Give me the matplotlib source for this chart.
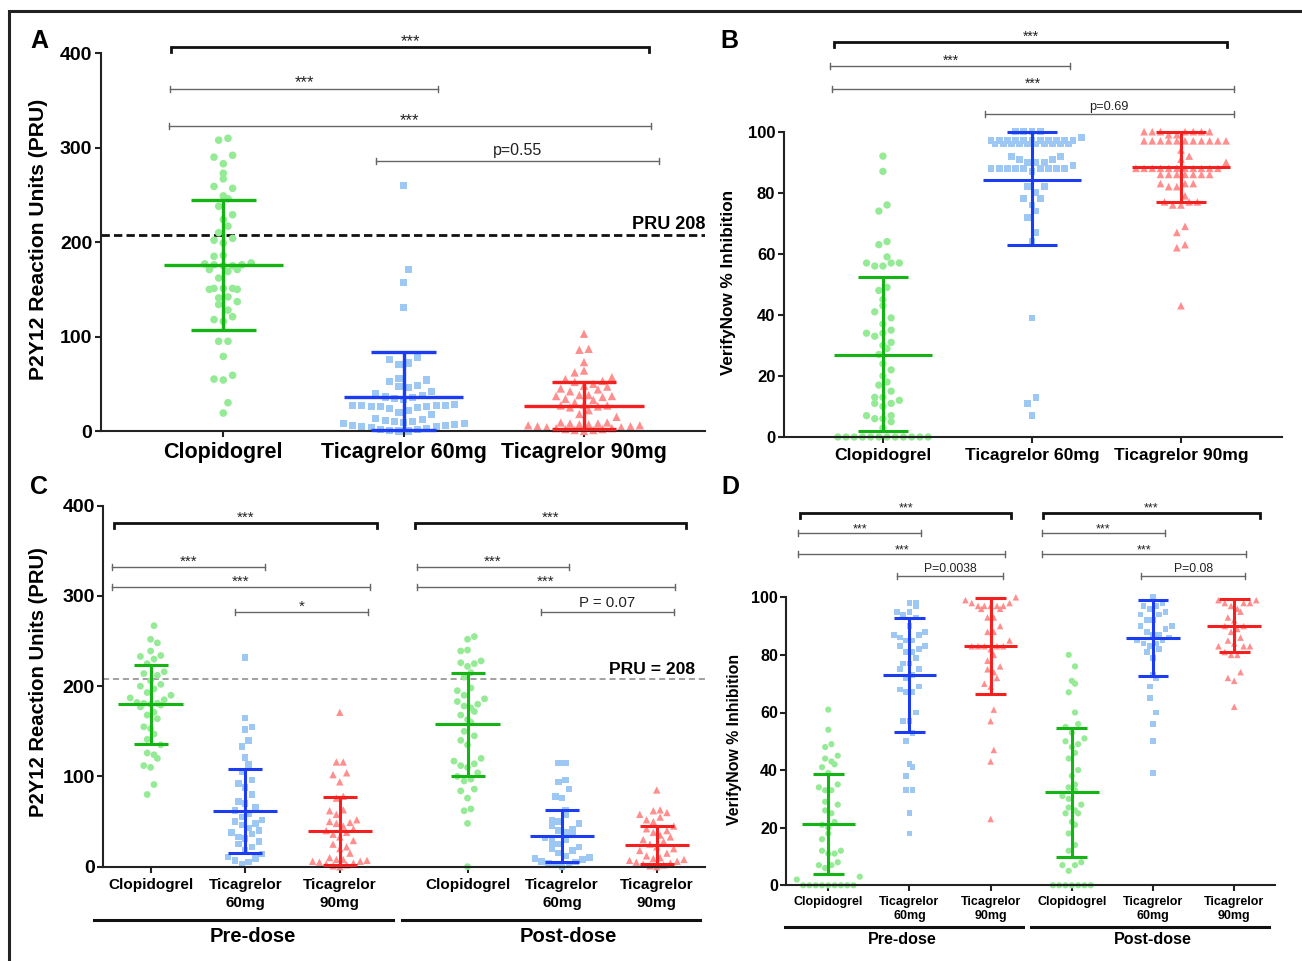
import numpy as np
import matplotlib
matplotlib.use('Agg')
import matplotlib.pyplot as plt
from matplotlib.lines import Line2D

W, H = 1302, 961
plt.rcParams['font.family'] = ['Liberation Sans', 'DejaVu Sans']

# ---------------- DATA ----------------
groups3 = ['Clopidogrel', 'Ticagrelor 60mg', 'Ticagrelor 90mg']
groups6 = ['Clopidogrel', 'Ticagrelor\n60mg', 'Ticagrelor\n90mg'] * 2

# Panel A: PRU
A_clop = [310, 308, 292, 290, 283, 273, 267, 259, 257, 249, 246, 238, 229, 224, 217, 210, 204, 202, 199,
          186, 185, 178, 177, 176, 176, 175, 175, 171, 171, 169, 162, 151, 151, 151, 150, 150, 142, 141,
          137, 134, 128, 121, 118, 116, 95, 95, 79, 59, 55, 54, 30, 19]
A_t60 = [260, 171, 157, 131, 78, 76, 72, 70, 56, 54, 52, 48, 47, 46, 42, 40, 38, 36, 35, 34, 33, 28, 27, 27,
         27, 27, 26, 26, 26, 25, 24, 22, 20, 17, 13, 12, 11, 10, 10, 9, 8, 8, 7, 6, 6, 5, 5, 4, 3, 2, 2, 1, 0, 0]
A_t90 = [103, 87, 86, 73, 64, 62, 57, 55, 53, 52, 50, 48, 47, 45, 44, 42, 38, 38, 37, 37, 36, 34, 33, 30, 28,
         27, 27, 26, 25, 22, 18, 15, 9, 9, 8, 8, 7, 7, 6, 6, 5, 5, 4, 4, 3, 3, 2, 2, 1, 1, 0]
A_mean = [176, 36.5, 27]
A_lo = [107, 1, 2]
A_hi = [245, 84, 52]

# Panel B: VerifyNow % inhibition
B_clop = [92, 87, 76, 74, 64, 63, 59, 57, 57, 57, 56, 56, 49, 48, 45, 43, 41, 39, 37, 35, 34, 34, 33, 31, 30,
          29, 27, 24, 22, 20, 18, 17, 15, 13, 13, 12, 11, 11, 10, 7, 7, 6, 6, 5, 3,
          0, 0, 0, 0, 0, 0, 0, 0, 0, 0, 0, 0]
B_t60 = [100, 100, 100, 100, 98, 97, 97, 97, 97, 97, 97, 97, 97, 97, 97, 97, 96, 96, 96, 96, 96, 96, 96, 96,
         96, 96, 92, 92, 91, 91, 90, 90, 90, 89, 88, 88, 88, 88, 88, 88, 88, 88, 88, 87, 82, 82, 80, 78, 78,
         76, 74, 72, 67, 64, 39, 13, 11, 7]
B_t90 = [100, 100, 100, 100, 100, 100, 100, 99, 99, 97, 97, 97, 97, 97, 97, 97, 97, 97, 97, 97, 94, 92, 91,
         90, 88, 88, 88, 88, 88, 88, 88, 88, 88, 88, 88, 86, 86, 86, 86, 86, 86, 86, 83, 83, 83, 82, 82, 79,
         77, 77, 77, 76, 76, 69, 67, 63, 62, 43]
B_mean = [27, 84.3, 88.5]
B_lo = [2, 63, 77]
B_hi = [52.3, 100, 99.9]

# Panel C: PRU pre / post dose
C_pre_clop = [267, 252, 248, 239, 234, 233, 230, 225, 216, 214, 212, 206, 202, 200, 197, 193, 190, 187, 185,
              182, 181, 181, 180, 179, 177, 171, 168, 164, 155, 153, 147, 141, 135, 126, 124, 120, 112, 110, 91, 80]
C_pre_t60 = [232, 165, 155, 152, 140, 133, 121, 113, 105, 96, 92, 88, 80, 72, 70, 66, 62, 59, 55, 52, 50, 48,
             46, 43, 40, 38, 36, 33, 31, 28, 25, 22, 18, 14, 11, 9, 7, 5, 3]
C_pre_t90 = [171, 116, 116, 104, 102, 94, 78, 76, 63, 62, 58, 52, 50, 49, 48, 45, 42, 40, 38, 36, 33, 29, 25,
             22, 20, 15, 10, 8, 8, 7, 6, 6, 5, 4, 3, 2, 1, 0]
C_post_clop = [255, 252, 240, 239, 228, 226, 225, 222, 215, 210, 198, 195, 190, 186, 183, 180, 178, 176, 172,
               168, 163, 160, 150, 145, 140, 135, 120, 117, 114, 112, 110, 104, 100, 97, 95, 86, 84, 76, 64, 62,
               48, 0]
C_post_t60 = [115, 115, 96, 94, 86, 78, 76, 62, 58, 52, 50, 48, 45, 42, 40, 38, 35, 32, 30, 28, 25, 22, 20, 18,
              15, 12, 10, 9, 8, 6, 5, 4, 3, 2, 0]
C_post_t90 = [85, 63, 62, 60, 58, 55, 52, 50, 45, 42, 40, 38, 35, 33, 30, 28, 25, 22, 20, 18, 15, 12, 10, 9, 8,
              7, 6, 5, 4, 3, 2, 1, 0]
C_mean = [180.5, 61.6, 40, 157.6, 34, 23.6]
C_lo = [136, 15, 2, 101, 5, 2.6]
C_hi = [223.6, 108.5, 77.5, 214.8, 63, 45.4]

# Panel D: VerifyNow % inhibition pre / post dose
D_pre_clop = [61, 54, 49, 48, 45, 44, 43, 42, 41, 39, 35, 34, 33, 33, 29, 28, 26, 25, 22, 21, 20, 18, 16, 12,
              12, 11, 11, 8, 7, 7, 6, 3, 2, 0, 0, 0, 0, 0, 0, 0, 0, 0]
D_pre_t60 = [98, 98, 97, 95, 95, 94, 93, 90, 88, 87, 87, 86, 85, 85, 83, 83, 82, 81, 81, 79, 77, 77, 75, 75,
             73, 72, 69, 68, 67, 67, 60, 57, 57, 53, 50, 42, 41, 38, 33, 33, 25, 18]
D_pre_t90 = [100, 99, 98, 98, 97, 97, 97, 97, 97, 96, 96, 93, 93, 90, 88, 88, 85, 83, 83, 83, 83, 83, 82, 80,
             78, 76, 75, 74, 72, 70, 69, 61, 57, 47, 43, 23]
D_post_clop = [80, 76, 71, 70, 67, 60, 56, 55, 53, 51, 50, 49, 48, 46, 44, 40, 38, 35, 34, 33, 31, 30, 28, 27,
               26, 25, 25, 22, 21, 18, 14, 12, 8, 7, 7, 5, 0, 0, 0, 0, 0, 0, 0]
D_post_t60 = [100, 98, 97, 97, 96, 95, 94, 94, 92, 92, 90, 90, 89, 88, 87, 87, 86, 85, 85, 84, 84, 83, 82, 81,
              79, 73, 72, 69, 65, 60, 56, 50, 39]
D_post_t90 = [99, 99, 98, 98, 98, 97, 96, 95, 93, 92, 90, 90, 89, 88, 86, 85, 84, 83, 83, 83, 81, 80, 80, 74,
              72, 71, 62]
D_mean = [21.4, 73, 83, 32.3, 85.9, 90.2]
D_lo = [3.9, 53.1, 66.4, 10, 72.6, 81.1]
D_hi = [38.8, 92.9, 99.7, 54.6, 99.1, 99.3]

# ---------------- STYLE ----------------
LIGHT = ['#95ea95', '#9dc8f3', '#ff8e8e']
DARK = ['#14b414', '#1b3cf0', '#f42020']
MARK = ['o', 's', '^']

fig = plt.figure(figsize=(W / 100, H / 100), dpi=100)


def add_axes(l, t, r, b):
    return fig.add_axes([l / W, 1 - b / H, (r - l) / W, (b - t) / H])


def ftext(x, y, s, **kw):
    fig.text(x / W, 1 - y / H, s, **kw)


def fline(xs, ys, **kw):
    fig.add_artist(Line2D([x / W for x in xs], [1 - y / H for y in ys], transform=fig.transFigure, **kw))


def scales(ax):
    bb = ax.get_position()
    x0, x1 = ax.get_xlim()
    y0, y1 = ax.get_ylim()
    return bb.width * W / (x1 - x0), bb.height * H / (y1 - y0)


def row_offsets(ypx, bin_h, spacing, max_n):
    """Row-wise scatter layout (GraphPad-like): nearby values share a row, spread centre-out."""
    ypx = np.asarray(ypx)
    order = np.argsort(ypx, kind='stable')
    groups = []
    for i in order:
        if groups and ypx[i] == ypx[groups[-1][0]]:
            groups[-1].append(i)
        else:
            groups.append([i])
    bins, cur, start = [], [], None
    for g in groups:
        y = ypx[g[0]]
        if start is None or y - start >= bin_h or len(cur) + len(g) > max_n:
            if cur:
                bins.append(cur)
            cur, start = list(g), y
        else:
            cur.extend(g)
    if cur:
        bins.append(cur)
    xs = np.zeros(len(ypx))
    prev_y, prev_shift, prev_par = -1e9, 0.0, -1
    for b in bins:
        m = len(b)
        slots = sorted(np.arange(m) - (m - 1) / 2.0, key=lambda s: (abs(s), s))
        y0 = np.mean([ypx[i] for i in b])
        shift = 0.0
        if y0 - prev_y < 1.6 * bin_h and m % 2 == prev_par:
            shift = 0.5 if prev_shift <= 0 else -0.5
        for i, s in zip(b, slots):
            xs[i] = (s + shift) * spacing
        prev_y, prev_shift, prev_par = y0, shift, m % 2
    return xs


def draw_group(ax, xpos, vals, k, msz, bin_h, spacing, max_n):
    sx, sy = scales(ax)
    v = np.array(vals, dtype=float)
    off = row_offsets(v * sy, bin_h, spacing, max_n) / sx
    ax.scatter(xpos + off, v, marker=MARK[k], s=msz[k], c=LIGHT[k], edgecolors='none',
               clip_on=False, zorder=2)


def draw_err(ax, x, m, lo, hi, k, mw, cw, lw):
    kw = dict(color=DARK[k], lw=lw, solid_capstyle='butt', clip_on=False, zorder=3)
    ax.plot([x - mw, x + mw], [m, m], **kw)
    ax.plot([x, x], [lo, hi], **kw)
    ax.plot([x - cw, x + cw], [hi, hi], **kw)
    ax.plot([x - cw, x + cw], [lo, lo], **kw)


def bracket(ax, x0, x1, y, txt, thick, fs, toff):
    sx, sy = scales(ax)
    u = 1.0 / sy
    if thick:
        ax.plot([x0, x0, x1, x1], [y - 5 * u, y, y, y - 5 * u], color='#111111', lw=2.0,
                clip_on=False, solid_joinstyle='miter')
    else:
        kw = dict(color='#666666', lw=1.0, clip_on=False)
        ax.plot([x0, x1], [y, y], **kw)
        ax.plot([x0, x0], [y - 3 * u, y + 3 * u], **kw)
        ax.plot([x1, x1], [y - 3 * u, y + 3 * u], **kw)
    ax.text((x0 + x1) / 2, y + toff * u, txt, ha='center', va='baseline', fontsize=fs,
            color='#222222', clip_on=False)


def style_axes(ax, yt, xpos, xlabels, tfs_x, tfs_y, lw, ls=1.15):
    for s in ['top', 'right']:
        ax.spines[s].set_visible(False)
    for s in ['left', 'bottom']:
        ax.spines[s].set_linewidth(lw)
        ax.spines[s].set_color('#222222')
    ax.set_yticks(yt)
    ax.set_yticklabels([str(t) for t in yt], fontsize=tfs_y, fontweight='bold')
    ax.set_xticks(xpos)
    ax.set_xticklabels(xlabels, fontsize=tfs_x, fontweight='bold', linespacing=ls)
    ax.tick_params(axis='both', direction='out', length=4, width=lw, color='#222222', pad=2)
    ax.tick_params(axis='x', pad=4)
    ax.patch.set_alpha(0)


# ---------------- Figure border ----------------
fline([9, 9, 1310], [970, 10.5, 10.5], color='#222222', lw=2.2, solid_joinstyle='miter')

# ---------------- Panel A ----------------
axA = add_axes(100.5, 53.3, 705, 431)
axA.set_xlim(-0.681, 2.671)
axA.set_ylim(0, 400)
style_axes(axA, [0, 100, 200, 300, 400], [0, 1, 2], groups3, 15.5, 14, 1.5)
axA.axhline(208, color='#111111', lw=2.0, ls=(0, (3, 1.5)), zorder=1)
for k, vals in enumerate([A_clop, A_t60, A_t90]):
    draw_group(axA, k, vals, k, [30, 26, 36], 9.0, 9.3, 14)
for k in range(3):
    draw_err(axA, k, A_mean[k], A_lo[k], A_hi[k], k, 0.33, 0.18, 2.4)
bracket(axA, -0.289, 2.36, 406.4, '***', True, 12, 1)
bracket(axA, -0.294, 1.19, 362.6, '***', False, 12, 1)
bracket(axA, -0.302, 2.37, 323.4, '***', False, 12, 1)
bracket(axA, 0.848, 2.418, 286.3, 'p=0.55', False, 11.5, 6)
ftext(705, 229, 'PRU 208', ha='right', va='baseline', fontsize=13, fontweight='bold')
ftext(39, 239, 'P2Y12 Reaction Units (PRU)', rotation=90, ha='center', va='center',
      fontsize=15.2, fontweight='bold')
ftext(39.5, 41, 'A', ha='center', va='center', fontsize=18, fontweight='bold')

# ---------------- Panel B ----------------
axB = add_axes(783.7, 131.7, 1282, 437)
axB.set_xlim(-0.666, 2.678)
axB.set_ylim(0, 100)
style_axes(axB, [0, 20, 40, 60, 80, 100], [0, 1, 2], groups3, 12.6, 12, 1.5)
for k, vals in enumerate([B_clop, B_t60, B_t90]):
    draw_group(axB, k, vals, k, [28, 24, 30], 9.0, 8.2, 12)
for k in range(3):
    draw_err(axB, k, B_mean[k], B_lo[k], B_hi[k], k, 0.33, 0.17, 2.2)
bracket(axB, -0.326, 2.31, 129.3, '***', True, 10, 1)
bracket(axB, -0.352, 1.258, 121.6, '***', False, 10, 1)
bracket(axB, -0.339, 2.353, 113.9, '***', False, 10, 1)
bracket(axB, 0.685, 2.353, 105.7, 'p=0.69', False, 9.2, 4)
ftext(729, 282.5, 'VerifyNow % Inhibition', rotation=90, ha='center', va='center',
      fontsize=12.3, fontweight='bold')
ftext(729, 41, 'B', ha='center', va='center', fontsize=18, fontweight='bold')

# ---------------- Panel C ----------------
xC = [0, 1, 2, 3.35, 4.35, 5.35]
axC = add_axes(103, 505.7, 705, 866.7)
axC.set_xlim(-0.503, 5.86)
axC.set_ylim(0, 400)
style_axes(axC, [0, 100, 200, 300, 400], xC, groups6, 11, 14, 1.5, ls=1.35)
axC.axhline(208, color='#888888', lw=1.1, ls=(0, (4, 2.5)), zorder=1)
for j, vals in enumerate([C_pre_clop, C_pre_t60, C_pre_t90, C_post_clop, C_post_t60, C_post_t90]):
    draw_group(axC, xC[j], vals, j % 3, [24, 22, 28], 10.0, 6.8, 9)
for j in range(6):
    draw_err(axC, xC[j], C_mean[j], C_lo[j], C_hi[j], j % 3, 0.34, 0.18, 2.2)
bracket(axC, -0.387, 2.39, 380.8, '***', True, 11, 1)
bracket(axC, -0.412, 1.205, 332, '***', False, 11, 1)
bracket(axC, -0.403, 2.316, 310, '***', False, 11, 1)
bracket(axC, 0.897, 2.298, 282, '*', False, 11, 1)
bracket(axC, 2.80, 5.655, 380.8, '***', True, 11, 1)
bracket(axC, 2.816, 4.423, 332, '***', False, 11, 1)
bracket(axC, 2.816, 5.538, 310, '***', False, 11, 1)
bracket(axC, 4.127, 5.529, 282, 'P = 0.07', False, 10.8, 5)
ftext(695.5, 674, 'PRU = 208', ha='right', va='baseline', fontsize=12.6, fontweight='bold')
ftext(39, 682, 'P2Y12 Reaction Units (PRU)', rotation=90, ha='center', va='center',
      fontsize=14.6, fontweight='bold')
ftext(39, 486.5, 'C', ha='center', va='center', fontsize=18, fontweight='bold')
fline([94, 392.5], [920, 920], color='#111111', lw=2.2)
fline([401.7, 700], [920, 920], color='#111111', lw=2.2)
ftext(252.5, 936, 'Pre-dose', ha='center', va='center', fontsize=14.5, fontweight='bold')
ftext(568, 936, 'Post-dose', ha='center', va='center', fontsize=14.5, fontweight='bold')

# ---------------- Panel D ----------------
xD = [0, 1, 2, 3, 4, 5]
axD = add_axes(786.4, 597.3, 1274.8, 885.3)
axD.set_xlim(-0.516, 5.50)
axD.set_ylim(0, 100)
style_axes(axD, [0, 20, 40, 60, 80, 100], xD, groups6, 9, 11.6, 1.5)
for j, vals in enumerate([D_pre_clop, D_pre_t60, D_pre_t90, D_post_clop, D_post_t60, D_post_t90]):
    draw_group(axD, xD[j], vals, j % 3, [20, 17, 22], 10.0, 6.3, 12)
for j in range(6):
    draw_err(axD, xD[j], D_mean[j], D_lo[j], D_hi[j], j % 3, 0.33, 0.19, 2.2)
bracket(axD, -0.343, 2.256, 129.4, '***', True, 9, 1)
bracket(axD, -0.369, 1.14, 122.2, '***', False, 9, 1)
bracket(axD, -0.369, 2.181, 114.9, '***', False, 9, 1)
bracket(axD, 0.851, 2.155, 107.4, 'P=0.0038', False, 8.7, 4)
bracket(axD, 2.643, 5.32, 129.4, '***', True, 9, 1)
bracket(axD, 2.629, 4.152, 122.2, '***', False, 9, 1)
bracket(axD, 2.629, 5.14, 114.9, '***', False, 9, 1)
bracket(axD, 3.858, 5.13, 107.4, 'P=0.08', False, 8.7, 4)
ftext(734, 739, 'VerifyNow % Inhibition', rotation=90, ha='center', va='center',
      fontsize=11.4, fontweight='bold')
ftext(730, 487, 'D', ha='center', va='center', fontsize=18, fontweight='bold')
fline([784.5, 1022.6], [927, 927], color='#111111', lw=2.2)
fline([1031, 1269], [927, 927], color='#111111', lw=2.2)
ftext(902.4, 940, 'Pre-dose', ha='center', va='center', fontsize=11.6, fontweight='bold')
ftext(1153, 940, 'Post-dose', ha='center', va='center', fontsize=11.6, fontweight='bold')

fig.savefig('out.png', dpi=100)
